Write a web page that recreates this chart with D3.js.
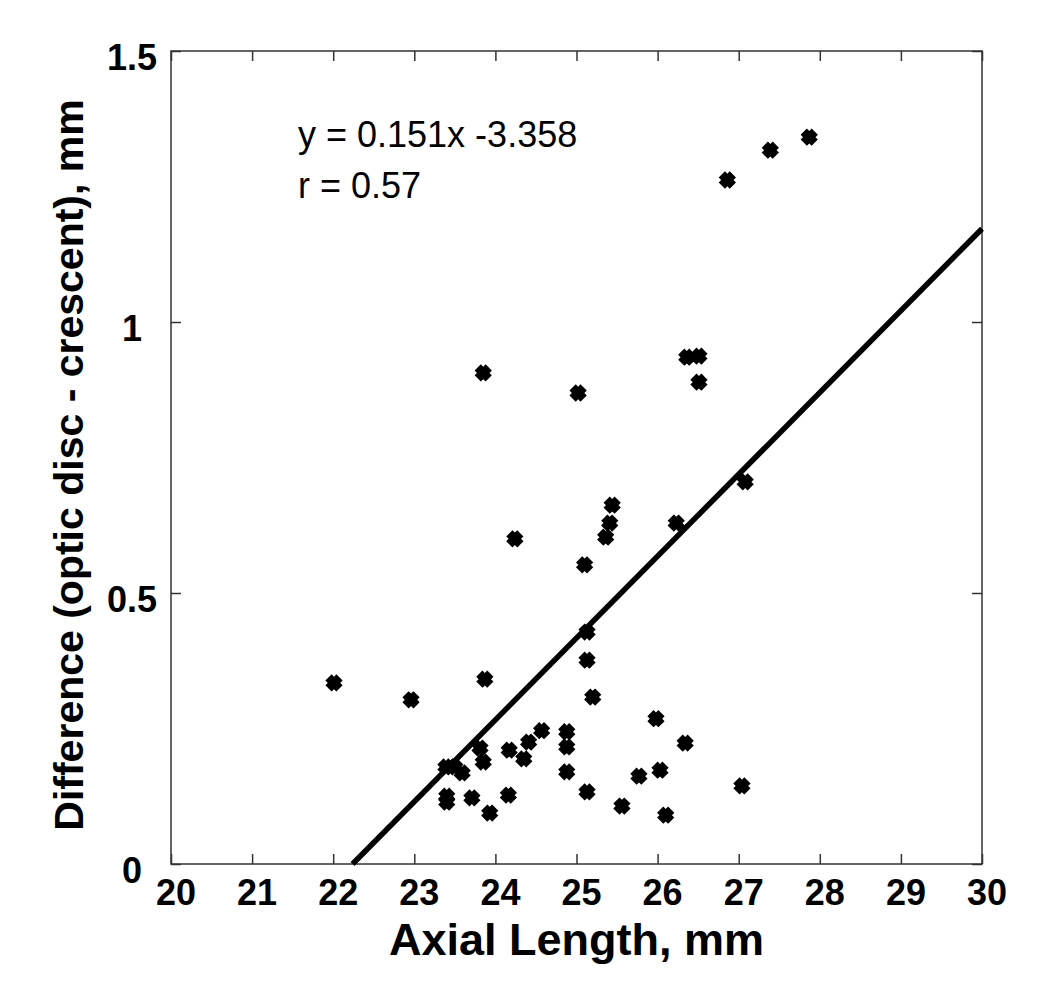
<!DOCTYPE html>
<html>
<head>
<meta charset="utf-8">
<script src="https://cdn.jsdelivr.net/npm/d3@7"></script>
<style>
body{margin:0;background:#fff}
text{font-family:Arial,"Liberation Sans",sans-serif;fill:#000}
</style>
</head>
<body>
<div id="chart"></div>
<script>
// axial length (mm) and difference (optic disc - crescent, mm) for each eye
const axialLength=[22.01,22.96,23.39,23.40,23.40,23.50,23.59,23.71,23.81,23.85,23.93,23.87,23.85,24.17,24.16,24.35,24.41,24.57,24.88,24.88,24.88,25.13,25.56,25.77,25.98,26.03,26.10,26.34,25.20,25.13,25.13,25.10,25.02,24.24,25.36,25.41,25.44,26.23,26.36,26.51,26.51,27.08,27.04,26.86,27.39,27.87]
const difference=[0.334,0.303,0.179,0.125,0.114,0.179,0.168,0.122,0.214,0.188,0.094,0.341,0.906,0.210,0.127,0.194,0.225,0.246,0.244,0.216,0.170,0.133,0.107,0.162,0.268,0.173,0.090,0.223,0.308,0.428,0.376,0.552,0.869,0.600,0.603,0.629,0.662,0.629,0.935,0.937,0.889,0.705,0.144,1.262,1.317,1.341]

const xTicks=[20,21,22,23,24,25,26,27,28,29,30]
const yTicks=[0,0.5,1,1.5]
const yTickLabels=["0","0.5","1","1.5"]

const slope=0.151
const intercept=-3.358
const equationText=["y = 0.151x -3.358","r = 0.57"]

const width=1050
const height=993
const plotL=171,plotR=982,plotT=51,plotB=864

const svg=d3.select("#chart")
.append("svg")
.attr("width",width)
.attr("height",height)

const x=d3.scaleLinear().domain([20,30]).range([plotL,plotR])
const y=d3.scaleLinear().domain([0,1.5]).range([plotB,plotT])

// inward ticks on all four sides
const tickLen=10

function styleTicks(g){
g.select(".domain").remove()
g.selectAll("line").attr("stroke","#333").attr("stroke-width",1.5)
}

svg.append("g")
.attr("transform","translate(0,"+plotB+")")
.call(d3.axisBottom(x).tickValues(xTicks).tickSize(-tickLen).tickFormat(""))
.call(styleTicks)

svg.append("g")
.attr("transform","translate(0,"+plotT+")")
.call(d3.axisTop(x).tickValues(xTicks).tickSize(-tickLen).tickFormat(""))
.call(styleTicks)

svg.append("g")
.attr("transform","translate("+plotL+",0)")
.call(d3.axisLeft(y).tickValues(yTicks).tickSize(-tickLen).tickFormat(""))
.call(styleTicks)

svg.append("g")
.attr("transform","translate("+plotR+",0)")
.call(d3.axisRight(y).tickValues(yTicks).tickSize(-tickLen).tickFormat(""))
.call(styleTicks)

svg.append("rect")
.attr("x",plotL).attr("y",plotT)
.attr("width",plotR-plotL).attr("height",plotB-plotT)
.attr("fill","none")
.attr("stroke","#333")
.attr("stroke-width",1.5)

// tick labels
svg.append("g").selectAll("text")
.data(xTicks)
.enter()
.append("text")
.attr("x",d=>x(d)+5)
.attr("y",plotB+41)
.attr("text-anchor","middle")
.attr("font-size",36)
.attr("font-weight","bold")
.text(d=>d)

svg.append("g").selectAll("text")
.data(yTicks)
.enter()
.append("text")
.attr("x",132)
.attr("y",d=>y(d)+19)
.attr("text-anchor","middle")
.attr("font-size",36)
.attr("font-weight","bold")
.text((d,i)=>yTickLabels[i])

// axis titles
svg.append("text")
.attr("x",(plotL+plotR)/2)
.attr("y",955)
.attr("text-anchor","middle")
.attr("font-size",45)
.attr("font-weight","bold")
.text("Axial Length, mm")

svg.append("text")
.attr("transform","translate(83,465) rotate(-90)")
.attr("text-anchor","middle")
.attr("font-size",41)
.attr("font-weight","bold")
.text("Difference (optic disc - crescent), mm")

// regression line from y=0 to the right edge
const x0=-intercept/slope
svg.append("line")
.attr("x1",x(x0)).attr("y1",y(0))
.attr("x2",x(30)).attr("y2",y(slope*30+intercept))
.attr("stroke","#000")
.attr("stroke-width",5.5)

// fat X marker
const a=7.8,b=4.4
const pts=[[-b,-a],[b,-a],[b,-b],[a,-b],[a,b],[b,b],[b,a],[-b,a],[-b,b],[-a,b],[-a,-b],[-b,-b]]
const marker="M"+pts.map(p=>{
const c=Math.SQRT1_2
return [(p[0]-p[1])*c,(p[0]+p[1])*c].map(v=>v.toFixed(2)).join(",")
}).join("L")+"Z"

svg.append("g").selectAll("path")
.data(axialLength.map((v,i)=>[v,difference[i]]))
.enter()
.append("path")
.attr("d",marker)
.attr("transform",d=>"translate("+x(d[0])+","+y(d[1])+")")
.attr("fill","#000")

svg.append("g").selectAll("text")
.data(equationText)
.enter()
.append("text")
.attr("x",298)
.attr("y",(d,i)=>147+i*51)
.attr("font-size",36)
.text(d=>d)
</script>
</body>
</html>
